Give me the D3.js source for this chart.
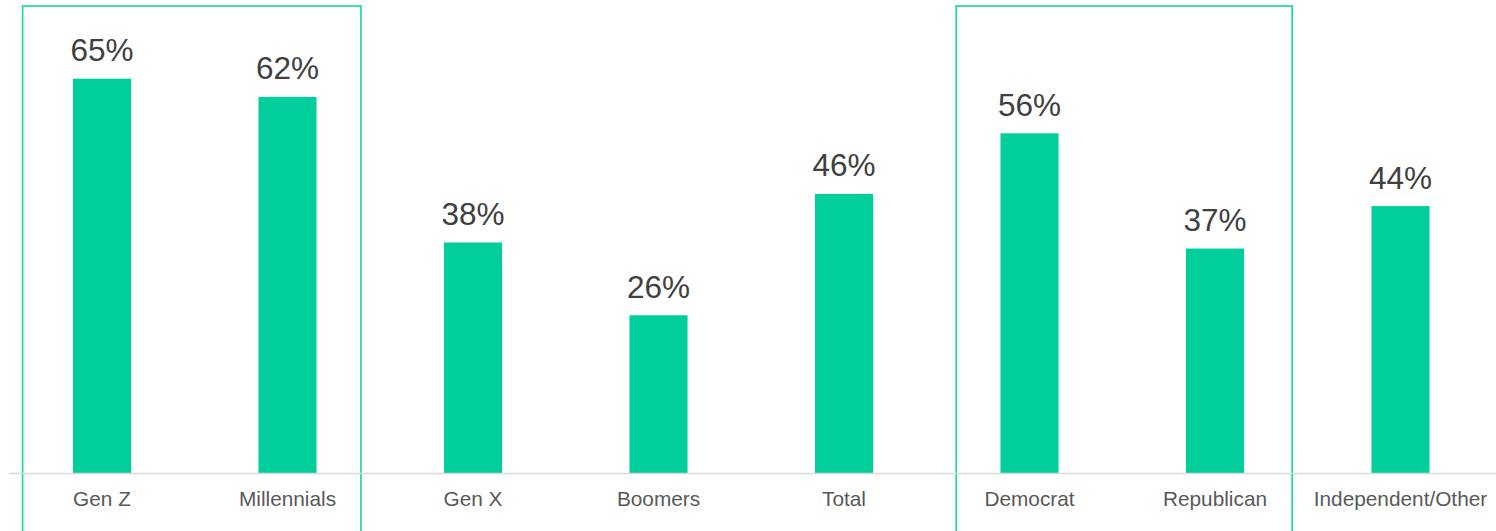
<!DOCTYPE html>
<html>
<head>
<meta charset="utf-8">
<script src="https://cdn.jsdelivr.net/npm/d3@7"></script>
<style>
  html, body { margin: 0; padding: 0; background: #ffffff; }
  svg { display: block; }
  text { font-family: "Liberation Sans", Arial, sans-serif; }
</style>
</head>
<body>
<svg id="chart" width="1496" height="531"></svg>
<script>
const categories = ["Gen Z", "Millennials", "Gen X", "Boomers", "Total", "Democrat", "Republican", "Independent/Other"];
const values = [65, 62, 38, 26, 46, 56, 37, 44];
const groups = [["Gen Z", "Millennials"], ["Democrat", "Republican"]];

const W = 1496, H = 531;
const svg = d3.select("#chart");

const x = d3.scaleBand()
  .domain(categories)
  .range([9.25, 1493.25])
  .paddingInner(0.687)
  .paddingOuter(0.3435);

const baseY = 473;
const y = d3.scaleLinear().domain([0, 65]).range([baseY, 78.7]);

const data = categories.map((c, i) => ({ cat: c, val: values[i] }));
const step = x.step();
const bw = x.bandwidth();

// box padding (fraction of step) left/right for each group
const boxPads = [[0.428, 0.396], [0.395, 0.416]];

svg.append("g").selectAll("rect")
  .data(groups)
  .join("rect")
  .attr("x", (g, i) => x(g[0]) + bw / 2 - boxPads[i][0] * step)
  .attr("width", (g, i) => (x(g[g.length - 1]) - x(g[0])) + (boxPads[i][0] + boxPads[i][1]) * step)
  .attr("y", 6)
  .attr("height", H)
  .attr("fill", "none")
  .attr("stroke", "#1fd8a0")
  .attr("stroke-width", 1.7);

// bars
svg.append("g").selectAll("rect")
  .data(data)
  .join("rect")
  .attr("x", d => x(d.cat))
  .attr("width", bw)
  .attr("y", d => y(d.val))
  .attr("height", d => y(0) - y(d.val))
  .attr("fill", "#00cf9b");

// baseline axis
svg.append("line")
  .attr("x1", 9).attr("x2", W)
  .attr("y1", baseY + 0.5).attr("y2", baseY + 0.5)
  .attr("stroke", "#d9d9d9")
  .attr("stroke-width", 1.5);

// value labels
svg.append("g").selectAll("text")
  .data(data)
  .join("text")
  .attr("x", d => x(d.cat) + bw / 2)
  .attr("y", d => y(d.val) - 17.5)
  .attr("text-anchor", "middle")
  .attr("font-size", 31.5)
  .attr("fill", "#404040")
  .text(d => d3.format(".0%")(d.val / 100));

// category labels
svg.append("g").selectAll("text")
  .data(categories)
  .join("text")
  .attr("x", c => x(c) + bw / 2)
  .attr("y", 505.5)
  .attr("text-anchor", "middle")
  .attr("font-size", 20.8)
  .attr("fill", "#595959")
  .text(c => c);
</script>
</body>
</html>
